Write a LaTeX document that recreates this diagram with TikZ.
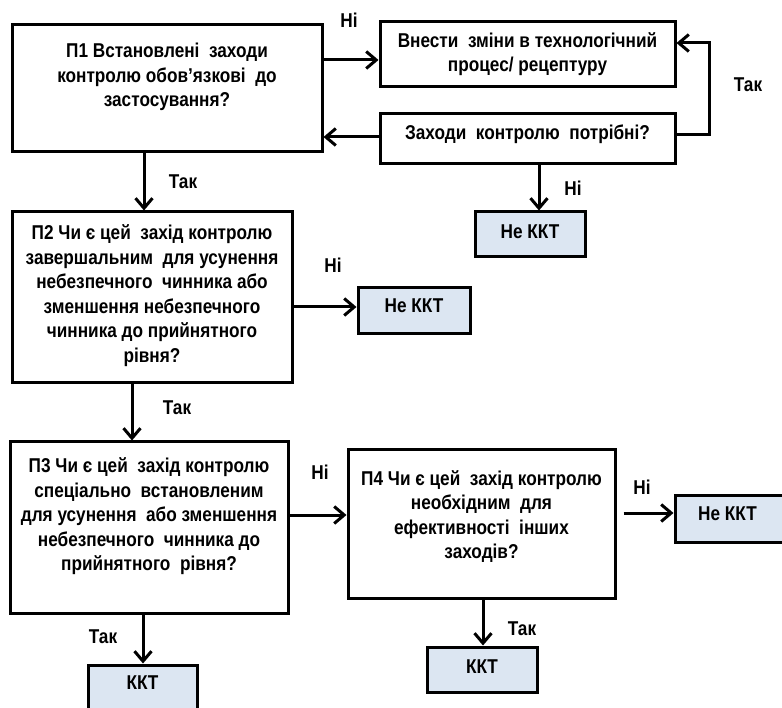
\documentclass[tikz,border=0pt]{standalone}
\usepackage{fontspec}
\setmainfont{Liberation Sans}[FakeStretch=0.86]
\usetikzlibrary{arrows.meta}
\definecolor{resfill}{RGB}{220,230,242}
\begin{document}
\begin{tikzpicture}[x=1pt,y=-1pt,
  every node/.style={font=\fontsize{20}{24.5}\selectfont\bfseries},
  box/.style={draw=black,line width=3pt,inner sep=0pt,align=center,fill=white},
  res/.style={box,fill=resfill},
  dims/.style 2 args={minimum width=#1 pt,minimum height=#2 pt},
  up/.style={text depth=#1 pt},
  lbl/.style={inner sep=0pt},
  arr/.style={line width=3pt,-{Straight Barb[length=10pt,width=17pt]}},
  ln/.style={line width=3pt}]
\useasboundingbox (0,0) rectangle (782,708);
\fill[white] (0,0) rectangle (782,708);

% boxes
\node[box,dims={310}{127},up=27] (P1) at (167,88.5)
  {П1 Встановлені\ \ заходи\\контролю обов’язкові\ \ до\\застосування?};
\node[box,dims={295}{65},up=5] (vn) at (527.5,54.5)
  {Внести\ \ зміни в технологічний\\процес/ рецептуру};
\node[box,dims={295}{50},up=14] (zk) at (527.5,139)
  {Заходи\ \ контролю\ \ потрібні?};
\node[res,dims={110}{45},up=5] (n1) at (530,234.5) {Не ККТ};

\node[box,dims={280}{171},up=8] (P2) at (152,297.5)
  {П2 Чи є цей\ \ захід контролю\\завершальним\ \ для усунення\\небезпечного\ \ чинника або\\зменшення небезпечного\\чинника до прийнятного\\рівня?};
\node[res,dims={112}{46},up=10] (n2) at (414,310.5) {Не ККТ};

\node[box,dims={278}{171},up=26] (P3) at (149,527.5)
  {П3 Чи є цей\ \ захід контролю\\спеціально\ \ встановленим\\для усунення\ \ або зменшення\\небезпечного\ \ чинника до\\прийнятного\ \ рівня?};
\node[box,dims={267}{148},up=19] (P4) at (481.5,524)
  {П4 Чи є цей\ \ захід контролю\\необхідним\ \ для\\ефективності\ \ інших\\заходів?};
\node[res,dims={115}{47},up=10] (n3) at (732.5,518.5) {Не ККТ\hspace*{10pt}};

\node[res,dims={109}{47},up=11] (k1) at (142.5,688.5) {ККТ};
\node[res,dims={110}{45},up=5] (k2) at (482,669.5) {ККТ};

% connectors
\draw[arr] (P1.east |- 0,60) -- (vn.west |- 0,60);
\draw[arr] (zk.west |- 0,137) -- (P1.east |- 0,137);
\draw[arr] (zk.east |- 0,135) -| (709,43) -- (vn.east |- 0,43);
\draw[arr] (zk.south -| 539,0) -- (n1.north -| 539,0);
\draw[arr] (P1.south -| 144,0) -- (P2.north -| 144,0);
\draw[arr] (P2.east |- 0,307) -- (n2.west |- 0,307);
\draw[arr] (P2.south -| 132,0) -- (P3.north -| 132,0);
\draw[arr] (P3.east |- 0,515) -- (P4.west |- 0,515);
\draw[arr] (P3.south -| 143,0) -- (k1.north -| 143,0);
\draw[arr,shorten <=7pt] (P4.east |- 0,513) -- (n3.west |- 0,513);
\draw[arr] (P4.south -| 483,0) -- (k2.north -| 483,0);

% labels
\node[lbl] (l1) at (349,20) {Ні};
\node[lbl] (l2) at (748,85) {Так};
\node[lbl] (l3) at (573,188) {Ні};
\node[lbl] (l4) at (183,182) {Так};
\node[lbl] (l5) at (333,265) {Ні};
\node[lbl] (l6) at (177,408) {Так};
\node[lbl] (l7) at (320,472) {Ні};
\node[lbl] (l8) at (103,637) {Так};
\node[lbl] (l9) at (642,487) {Ні};
\node[lbl] (l10) at (522,629) {Так};
\end{tikzpicture}
\end{document}
